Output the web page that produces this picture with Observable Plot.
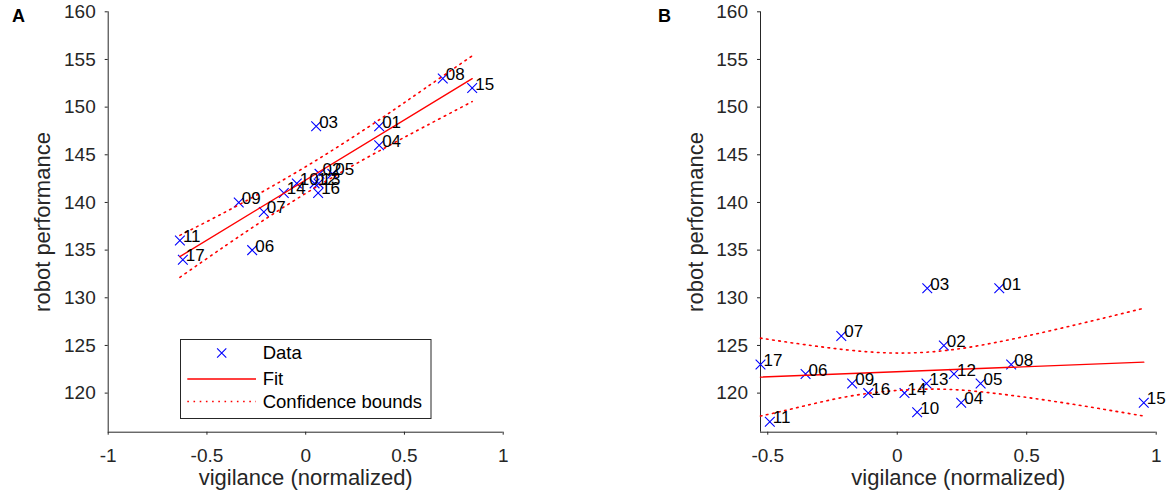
<!DOCTYPE html>
<html><head><meta charset="utf-8">
<script src="https://cdn.jsdelivr.net/npm/d3@7"></script>
<script src="https://cdn.jsdelivr.net/npm/@observablehq/plot@0.6"></script>
<style>
body{margin:0;background:#fff;font-family:"Liberation Sans",Arial,Helvetica,sans-serif;}
#wrap{position:relative;width:1170px;height:498px;overflow:hidden;background:#fff;}
.panel{position:absolute;top:0;}
.letter{position:absolute;top:6px;font-weight:bold;font-size:18px;color:#000;}
#legend{position:absolute;left:180px;top:339px;}
</style></head><body>
<div id="wrap">
  <div class="panel" id="pA" style="left:0px"></div>
  <div class="panel" id="pB" style="left:585px"></div>
  <div class="letter" style="left:12px">A</div>
  <div class="letter" style="left:658px">B</div>
  <svg id="legend" width="252" height="81"></svg>
</div>
<script>
// ---- data ----
const labels = ["01","02","03","04","05","06","07","08","09","10","11","12","13","14","15","16","17"];
// Panel A
const xA = [0.372, 0.07, 0.053, 0.372, 0.135, -0.271, -0.212, 0.694, -0.339, -0.045, -0.637, 0.045, 0.065, -0.111, 0.843, 0.063, -0.622];
const yA = [148, 143, 148, 146, 143, 135, 139, 153, 140, 142, 136, 142, 142, 141, 152, 141, 134];
const fitXA = [-0.637, 0.843];
const fitYA = [134.32, 152.98];
const bandXA = [-0.637, -0.4, -0.2, 0, 0.2, 0.4, 0.6, 0.843];
const upperA = [136.55, 139.07, 141.34, 143.75, 146.33, 149.06, 151.91, 155.38];
const lowerA = [132.15, 135.55, 138.32, 140.95, 143.41, 145.72, 147.93, 150.58];
// Panel B
const xB = [0.394, 0.18, 0.116, 0.247, 0.322, -0.354, -0.216, 0.44, -0.174, 0.077, -0.492, 0.219, 0.113, 0.028, 0.952, -0.112, -0.528];
const yB = [131, 125, 131, 119, 121, 122, 126, 123, 121, 118, 117, 122, 121, 120, 119, 120, 123];
const fitXB = [-0.528, 0.952];
const fitYB = [121.68, 123.25];
const bandXB = [-0.528, -0.4, -0.2, 0, 0.2, 0.4, 0.6, 0.8, 0.952];
const upperB = [125.77, 125.25, 124.55, 124.20, 124.51, 125.42, 126.60, 127.89, 128.90];
const lowerB = [117.59, 118.39, 119.60, 120.28, 120.39, 119.90, 119.16, 118.29, 117.60];
// axes
const xDomainA = [-1, 1];
const xTicksA = [-1, -0.5, 0, 0.5, 1];
const xDomainB = [-0.528, 1];
const xTicksB = [-0.5, 0, 0.5, 1];
const yDomain = [115.9, 160];
const yTicks = [120, 125, 130, 135, 140, 145, 150, 155, 160];
const xLabel = "vigilance (normalized)";
const yLabel = "robot performance";
const legendItems = ["Data", "Fit", "Confidence bounds"];

const FONT = "Liberation Sans, Arial, Helvetica, sans-serif";
const AX = "#262626";
const DASH = "1.6 4.6";
const dotted = {stroke: "#ff0000", strokeWidth: 1.6, strokeDasharray: DASH, curve: "natural"};

function panel({xs, ys, xDomain, xTicks, fitX, fitY, bandX, up, lo, ml, mr}) {
  const pts = labels.map((l, i) => ({label: l, x: xs[i], y: ys[i]}));
  const fit = fitX.map((x, i) => ({x, y: fitY[i]}));
  const upper = bandX.map((x, i) => ({x, y: up[i]}));
  const lower = bandX.map((x, i) => ({x, y: lo[i]}));
  return Plot.plot({
    width: 585, height: 498,
    marginLeft: ml, marginRight: mr, marginTop: 11.3, marginBottom: 66.3,
    style: {fontFamily: FONT, color: AX, background: "white", overflow: "visible"},
    x: {domain: xDomain},
    y: {domain: yDomain},
    marks: [
      Plot.axisY({ticks: yTicks, tickSize: 3, tickPadding: 9.5, fontSize: 19, tickFormat: d => String(d), label: null}),
      Plot.axisX({ticks: xTicks, tickSize: 3, tickPadding: 13, fontSize: 19, tickFormat: d => String(d), label: null}),
      Plot.ruleX([xDomain[0]], {stroke: AX, strokeWidth: 1}),
      Plot.ruleY([yDomain[0]], {stroke: AX, strokeWidth: 1}),
      Plot.dot(pts, {x: "x", y: "y", symbol: "times", r: 4.5, stroke: "#0000ff", strokeWidth: 1.1}),
      Plot.line(fit, {x: "x", y: "y", stroke: "#ff0000", strokeWidth: 1.4}),
      Plot.line(upper, {x: "x", y: "y", ...dotted}),
      Plot.line(lower, {x: "x", y: "y", ...dotted}),
      Plot.text(pts, {x: "x", y: "y", text: "label", dx: 3, dy: -4, textAnchor: "start", fontSize: 17, fill: "#000"}),
      Plot.text([yLabel], {text: d => d, frameAnchor: "left", dx: -65, rotate: -90, textAnchor: "middle", lineAnchor: "middle", fontSize: 22, fill: AX}),
      Plot.text([xLabel], {text: d => d, frameAnchor: "bottom", dy: 46, textAnchor: "middle", lineAnchor: "middle", fontSize: 22, fill: AX})
    ]
  });
}

document.getElementById("pA").append(panel({
  xs: xA, ys: yA, xDomain: xDomainA, xTicks: xTicksA,
  fitX: fitXA, fitY: fitYA, bandX: bandXA, up: upperA, lo: lowerA,
  ml: 107.7, mr: 82.3
}));
document.getElementById("pB").append(panel({
  xs: xB, ys: yB, xDomain: xDomainB, xTicks: xTicksB,
  fitX: fitXB, fitY: fitYB, bandX: bandXB, up: upperB, lo: lowerB,
  ml: 175, mr: 14.3
}));

// legend (inside panel A)
const lg = d3.select("#legend");
lg.append("rect").attr("x", 0.5).attr("y", 0.5).attr("width", 250.5).attr("height", 79)
  .attr("fill", "white").attr("stroke", AX).attr("stroke-width", 1);
const rowsY = [14, 40, 62.5];
const s = 4.6;
lg.append("path").attr("d", `M${41.7 - s},${rowsY[0] - s}L${41.7 + s},${rowsY[0] + s}M${41.7 - s},${rowsY[0] + s}L${41.7 + s},${rowsY[0] - s}`)
  .attr("stroke", "#0000ff").attr("stroke-width", 1.1).attr("fill", "none");
lg.append("line").attr("x1", 7.3).attr("x2", 76).attr("y1", rowsY[1]).attr("y2", rowsY[1])
  .attr("stroke", "#ff0000").attr("stroke-width", 1.4);
lg.append("line").attr("x1", 7.3).attr("x2", 76).attr("y1", rowsY[2]).attr("y2", rowsY[2])
  .attr("stroke", "#ff0000").attr("stroke-width", 1.6).attr("stroke-dasharray", DASH);
legendItems.forEach((t, i) => {
  lg.append("text").attr("x", 82.7).attr("y", rowsY[i]).attr("dy", "0.35em")
    .attr("font-family", FONT).attr("font-size", 18.5).attr("fill", "#000").text(t);
});
</script>
</body></html>
